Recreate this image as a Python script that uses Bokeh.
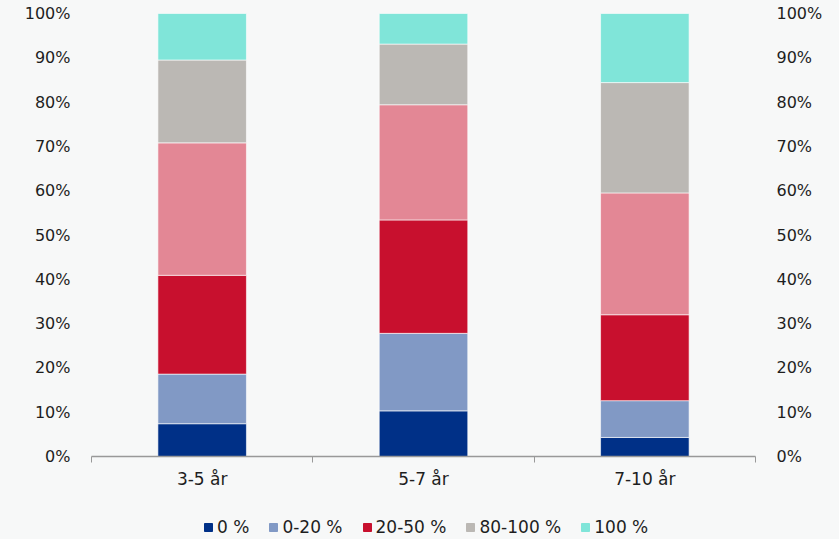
from bokeh.plotting import figure
from bokeh.models import Range1d, FixedTicker, LinearAxis, Legend, LegendItem, ColumnDataSource
from bokeh.layouts import column
from bokeh.embed import file_html
from bokeh.resources import INLINE

categories = ["3-5 år", "5-7 år", "7-10 år"]
series_names = ["0 %", "0-20 %", "20-50 %", "50-80 %", "80-100 %", "100 %"]
s0 = [7.4, 10.3, 4.3]
s0_20 = [11.2, 17.5, 8.3]
s20_50 = [22.3, 25.6, 19.4]
s50_80 = [29.9, 26.0, 27.5]
s80_100 = [18.7, 13.7, 24.9]
s100 = [10.5, 6.9, 15.6]
legend_shown = ["0 %", "0-20 %", "20-50 %", "80-100 %", "100 %"]
y_ticks = [0, 10, 20, 30, 40, 50, 60, 70, 80, 90, 100]

colors = ["#003087", "#8199c5", "#c8102e", "#e38795", "#bbb8b4", "#80e5d9"]
FONT = "DejaVu Sans"
BG = "#f7f8f8"
TXT = "#1e1e1e"

xpos = [i + 0.5 for i in range(len(categories))]
src = ColumnDataSource(dict(x=xpos, **{n: v for n, v in zip(series_names, [s0, s0_20, s20_50, s50_80, s80_100, s100])}))

p = figure(width=839, height=515, output_backend="svg", toolbar_location=None,
           x_range=Range1d(0, len(categories)), y_range=Range1d(0, 100),
           min_border_left=91, min_border_right=84, min_border_top=13, min_border_bottom=59)
p.background_fill_color = BG
p.border_fill_color = BG
p.outline_line_color = None
p.grid.visible = False

rends = p.vbar_stack(series_names, x="x", width=0.4, source=src, color=colors,
                     line_color="#ffffff", line_alpha=0.6, line_width=1)

# bottom axis
xa = p.xaxis[0]
xa.ticker = FixedTicker(ticks=xpos, minor_ticks=list(range(len(categories) + 1)))
xa.major_label_overrides = {x: c for x, c in zip(xpos, categories)}
xa.major_tick_out = 0
xa.major_tick_in = 0
xa.minor_tick_out = 6
xa.minor_tick_in = 0
xa.minor_tick_line_color = "#999999"
xa.axis_line_color = "#999999"
xa.axis_line_width = 1.5
xa.major_label_text_font = FONT
xa.major_label_text_font_size = "17px"
xa.major_label_text_color = TXT
xa.major_label_standoff = 6

def style_y(ax):
    ax.ticker = FixedTicker(ticks=y_ticks)
    ax.major_label_overrides = {t: f"{t}%" for t in y_ticks}
    ax.axis_line_color = None
    ax.major_tick_line_color = None
    ax.minor_tick_line_color = None
    ax.major_label_text_font = FONT
    ax.major_label_text_font_size = "16px"
    ax.major_label_text_color = TXT
    ax.major_label_standoff = 15

style_y(p.yaxis[0])
ra = LinearAxis()
style_y(ra)
p.add_layout(ra, "right")

# legend strip
q = figure(width=839, height=24, output_backend="svg", toolbar_location=None,
           x_axis_type=None, y_axis_type=None,
           min_border_left=91, min_border_right=84, min_border_top=0, min_border_bottom=0,
           x_range=Range1d(0, 1), y_range=Range1d(0, 1))
q.background_fill_color = BG
q.border_fill_color = BG
q.outline_line_color = None
q.grid.visible = False
dummy = {n: q.vbar(x=[-10], top=[0], width=0.1, color=c) for n, c in zip(series_names, colors)}

items = [LegendItem(label=n, renderers=[dummy[n]]) for n in series_names if n in legend_shown]
leg = Legend(items=items, orientation="horizontal", location=(112, 2),
             glyph_width=10, glyph_height=10, label_standoff=4, spacing=19,
             padding=0, margin=0, border_line_color=None, background_fill_alpha=0,
             label_text_font=FONT, label_text_font_size="17px", label_text_color=TXT)
q.add_layout(leg, "center")

layout = column(p, q, spacing=0, styles={"background-color": BG})
html = file_html(layout, INLINE)
html = html.replace("<body>", f'<body style="background-color:{BG}">', 1)
open("out.html", "w").write(html)
